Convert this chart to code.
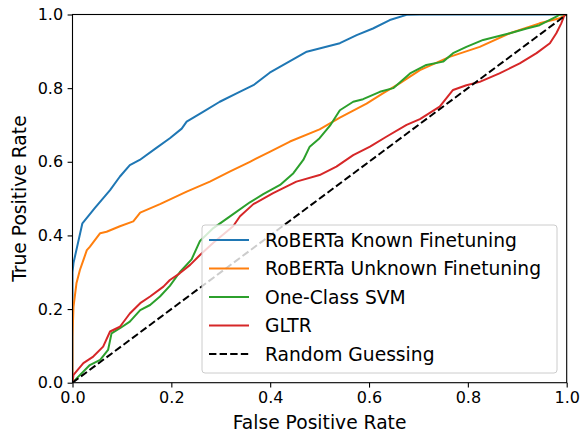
<!doctype html>
<html>
  <head>
    <meta charset="utf-8" />
    <title>ROC Curves</title>
    <style>
      body {
        margin: 0;
        background: #fff;
      }
      svg {
        display: block;
      }
      text {
        font-family: "DejaVu Sans", sans-serif;
        fill: #000;
      }
    </style>
  </head>
  <body>
    <svg id="chart"></svg>
    <script src="https://d3js.org/d3.v7.min.js"></script>
    <script>
      // ROC points
      const knownFpr = [0, 0, 0.002, 0.02, 0.045, 0.076, 0.096, 0.116, 0.136, 0.167, 0.197, 0.221, 0.231, 0.265, 0.298, 0.332, 0.366, 0.399, 0.474, 0.541, 0.575, 0.608, 0.642, 0.676, 0.703, 1.0];
      const knownTpr = [0, 0.3, 0.325, 0.433, 0.474, 0.523, 0.56, 0.591, 0.605, 0.635, 0.664, 0.69, 0.709, 0.736, 0.763, 0.786, 0.808, 0.842, 0.899, 0.922, 0.944, 0.962, 0.985, 0.999, 1.0, 1.0];

      const unknownFpr = [0, 0, 0.002, 0.008, 0.015, 0.022, 0.029, 0.035, 0.056, 0.069, 0.096, 0.123, 0.137, 0.177, 0.231, 0.278, 0.318, 0.359, 0.399, 0.44, 0.5, 0.541, 0.595, 0.628, 0.662, 0.703, 0.763, 0.824, 0.885, 0.945, 0.986, 1.0];
      const unknownTpr = [0, 0.125, 0.206, 0.27, 0.306, 0.333, 0.36, 0.369, 0.406, 0.41, 0.425, 0.438, 0.462, 0.485, 0.519, 0.546, 0.573, 0.6, 0.627, 0.655, 0.688, 0.72, 0.758, 0.786, 0.813, 0.849, 0.885, 0.912, 0.949, 0.976, 0.99, 1.0];

      const svmFpr = [0, 0.002, 0.035, 0.056, 0.072, 0.079, 0.096, 0.116, 0.137, 0.157, 0.177, 0.197, 0.217, 0.241, 0.258, 0.285, 0.318, 0.359, 0.386, 0.42, 0.447, 0.467, 0.48, 0.5, 0.521, 0.541, 0.568, 0.588, 0.622, 0.649, 0.683, 0.716, 0.75, 0.77, 0.797, 0.831, 0.885, 0.919, 0.945, 0.979, 0.986, 1.0];
      const svmTpr = [0, 0.003, 0.048, 0.062, 0.089, 0.134, 0.148, 0.166, 0.197, 0.211, 0.234, 0.263, 0.3, 0.335, 0.385, 0.42, 0.451, 0.49, 0.512, 0.537, 0.569, 0.605, 0.641, 0.664, 0.698, 0.74, 0.763, 0.77, 0.79, 0.8, 0.84, 0.863, 0.872, 0.895, 0.912, 0.931, 0.949, 0.962, 0.971, 0.994, 1.0, 1.0];

      const gltrFpr = [0, 0.002, 0.022, 0.042, 0.062, 0.076, 0.096, 0.116, 0.137, 0.157, 0.184, 0.197, 0.217, 0.238, 0.258, 0.285, 0.325, 0.339, 0.366, 0.406, 0.453, 0.5, 0.534, 0.568, 0.602, 0.635, 0.676, 0.703, 0.743, 0.77, 0.797, 0.824, 0.864, 0.905, 0.939, 0.966, 0.979, 0.989, 0.996, 1.0];
      const gltrTpr = [0, 0.021, 0.053, 0.071, 0.098, 0.139, 0.152, 0.188, 0.216, 0.234, 0.261, 0.279, 0.297, 0.32, 0.347, 0.38, 0.425, 0.452, 0.485, 0.515, 0.546, 0.564, 0.587, 0.618, 0.641, 0.668, 0.7, 0.716, 0.75, 0.795, 0.808, 0.817, 0.84, 0.867, 0.895, 0.922, 0.949, 0.976, 1.0, 1.0];

      const randomFpr = [0, 1];
      const randomTpr = [0, 1];

      const seriesNames = [
        "RoBERTa Known Finetuning",
        "RoBERTa Unknown Finetuning",
        "One-Class SVM",
        "GLTR",
        "Random Guessing",
      ];
      const tickValues = [0, 0.2, 0.4, 0.6, 0.8, 1.0];

      function drawChart() {
        const width = 582;
        const height = 431;
        const margin = { left: 72.5, right: 15.3, top: 14.5, bottom: 48.3 };

        const svg = d3
          .select("#chart")
          .attr("width", width)
          .attr("height", height);

        const x = d3
          .scaleLinear()
          .domain([0, 1])
          .range([margin.left, width - margin.right]);
        const y = d3
          .scaleLinear()
          .domain([0, 1])
          .range([height - margin.bottom, margin.top]);

        svg
          .append("clipPath")
          .attr("id", "plot-clip")
          .append("rect")
          .attr("x", x(0))
          .attr("y", y(1))
          .attr("width", x(1) - x(0))
          .attr("height", y(0) - y(1));

        const series = [
          { name: seriesNames[0], fpr: knownFpr, tpr: knownTpr, color: "#1f77b4", dash: null },
          { name: seriesNames[1], fpr: unknownFpr, tpr: unknownTpr, color: "#ff7f0e", dash: null },
          { name: seriesNames[2], fpr: svmFpr, tpr: svmTpr, color: "#2ca02c", dash: null },
          { name: seriesNames[3], fpr: gltrFpr, tpr: gltrTpr, color: "#d62728", dash: null },
          { name: seriesNames[4], fpr: randomFpr, tpr: randomTpr, color: "#000", dash: "7.4,3.2" },
        ];

        const line = d3
          .line()
          .x((d) => x(d[0]))
          .y((d) => y(d[1]));

        const lines = svg.append("g").attr("clip-path", "url(#plot-clip)");
        lines
          .selectAll("path")
          .data(series)
          .enter()
          .append("path")
          .attr("d", (d) => line(d3.zip(d.fpr, d.tpr)))
          .attr("fill", "none")
          .attr("stroke", (d) => d.color)
          .attr("stroke-width", 2)
          .attr("stroke-linejoin", "round")
          .attr("stroke-dasharray", (d) => d.dash);

        // axes
        const xAxis = svg
          .append("g")
          .attr("transform", `translate(0,${y(0)})`)
          .call(
            d3
              .axisBottom(x)
              .tickValues(tickValues)
              .tickFormat(d3.format(".1f"))
              .tickSize(4.9)
              .tickPadding(4.5),
          );
        const yAxis = svg
          .append("g")
          .attr("transform", `translate(${x(0)},0)`)
          .call(
            d3
              .axisLeft(y)
              .tickValues(tickValues)
              .tickFormat(d3.format(".1f"))
              .tickSize(4.9)
              .tickPadding(4.5),
          );
        [xAxis, yAxis].forEach((a) => {
          a.select(".domain").remove();
          a.selectAll("line").attr("stroke", "#000").attr("stroke-width", 1.1);
          a.selectAll("text")
            .style("font-family", "DejaVu Sans, sans-serif")
            .style("font-size", "16px");
        });

        // frame
        svg
          .append("rect")
          .attr("x", x(0))
          .attr("y", y(1))
          .attr("width", x(1) - x(0))
          .attr("height", y(0) - y(1))
          .attr("fill", "none")
          .attr("stroke", "#000")
          .attr("stroke-width", 1.1);

        svg
          .append("text")
          .attr("x", (x(0) + x(1)) / 2)
          .attr("y", 429)
          .attr("text-anchor", "middle")
          .style("font-size", "18.7px")
          .text("False Positive Rate");

        svg
          .append("text")
          .attr("transform", `translate(25.5,${(y(0) + y(1)) / 2}) rotate(-90)`)
          .attr("text-anchor", "middle")
          .style("font-size", "18.7px")
          .text("True Positive Rate");

        // legend
        const legend = svg.append("g").attr("transform", "translate(202,225)");
        legend
          .append("rect")
          .attr("width", 355)
          .attr("height", 148)
          .attr("rx", 3)
          .attr("fill", "#fff")
          .attr("fill-opacity", 0.8)
          .attr("stroke", "#ccc")
          .attr("stroke-width", 1);

        const rows = legend
          .selectAll("g.row")
          .data(series)
          .enter()
          .append("g")
          .attr("class", "row")
          .attr("transform", (d, i) => `translate(0,${15 + i * 28.5})`);
        rows
          .append("line")
          .attr("x1", 7)
          .attr("x2", 47)
          .attr("stroke", (d) => d.color)
          .attr("stroke-width", 2)
          .attr("stroke-dasharray", (d) => d.dash);
        rows
          .append("text")
          .attr("x", 63)
          .attr("dy", "0.36em")
          .style("font-size", "18.7px")
          .text((d) => d.name);
      }

      drawChart();
    </script>
  </body>
</html>
